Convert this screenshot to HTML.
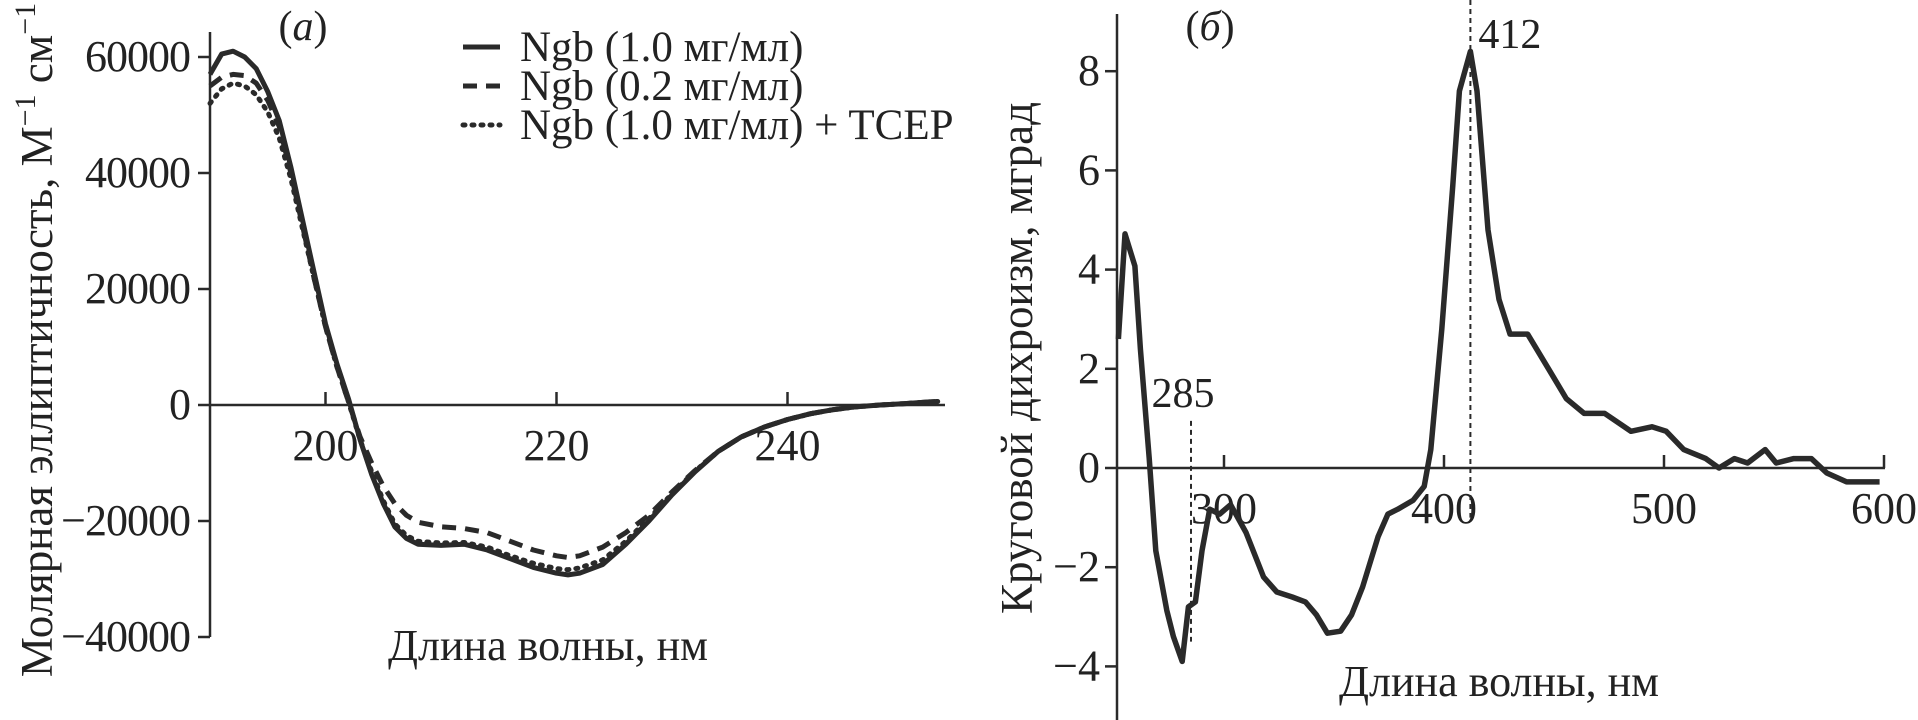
<!DOCTYPE html>
<html><head><meta charset="utf-8"><style>
html,body{margin:0;padding:0;background:#fff}
svg{display:block}
text{font-family:"Liberation Serif",serif;fill:#222}
</style></head><body>
<svg id="chart" width="1918" height="720" viewBox="0 0 1918 720">
<g id="pa"></g>
<g id="pb"></g>
</svg>
<script>
// Panel a data
const aWl = [190,191,192,193,194,195,196,197,198,199,200,201,202,203,204,205,206,207,208,210,212,214,216,218,220,221,222,224,226,228,230,232,234,236,238,240,242,244,246,248,250,252,253];
const aSolid = [57000,60500,61000,60000,58000,54000,49000,41000,32000,23000,14000,7000,1000,-6000,-12000,-17000,-21000,-23000,-24000,-24200,-24000,-25000,-26500,-28000,-29000,-29300,-29000,-27500,-24000,-20000,-15500,-11500,-8000,-5500,-3800,-2500,-1500,-800,-300,0,200,500,600];
const aDashed = [55000,56500,57000,56800,55500,52500,48000,40000,31000,22000,13500,6500,500,-5500,-10000,-14000,-17000,-19000,-20200,-21000,-21300,-22000,-23500,-25000,-26000,-26300,-26000,-24500,-22000,-19000,-15000,-11300,-8000,-5500,-3800,-2500,-1500,-800,-300,0,200,500,600];
const aDotted = [52000,54500,55500,55000,53500,50500,46000,39000,30500,22000,13500,6500,500,-6000,-11500,-16500,-20500,-22500,-23500,-23800,-23700,-24500,-26000,-27300,-28200,-28400,-28100,-26700,-23500,-19600,-15300,-11400,-8000,-5500,-3800,-2500,-1500,-800,-300,0,200,500,600];
const aYTicks = [60000,40000,20000,0,-20000,-40000];
const aYLabels = ["60000","40000","20000","0","\u221220000","\u221240000"];
const aXTicks = [200,220,240];
// Panel b data
const bWl = [252,255,259.5,262,266,269,274,277,281,283.8,287,290,293.5,298,303,310,318,324,331,337,342,347,353,358,363,370,374.5,379,386,391,394,399,404,407,412,415,420,425,430,438,447.5,455.6,463.7,473,485,494.5,501,509,519,525,532,538,546,551,559,567,574,583,593,598];
const bVal = [2.6,4.72,4.07,2.4,0.2,-1.67,-2.87,-3.4,-3.9,-2.8,-2.7,-1.67,-0.83,-0.93,-0.74,-1.3,-2.2,-2.5,-2.6,-2.7,-2.96,-3.33,-3.29,-2.96,-2.4,-1.39,-0.93,-0.83,-0.65,-0.37,0.37,2.8,5.7,7.6,8.4,7.6,4.8,3.4,2.7,2.7,2.0,1.4,1.1,1.1,0.74,0.83,0.74,0.37,0.19,0,0.19,0.1,0.37,0.1,0.19,0.19,-0.1,-0.28,-0.28,-0.28];
const bYTicks = [8,6,4,2,0,-2,-4];
const bYLabels = ["8","6","4","2","0","\u22122","\u22124"];
const bXTicks = [300,400,500,600];
const bMarks = [285,412];

const NS="http://www.w3.org/2000/svg";
function mk(parent,tag,attrs,txt){const e=document.createElementNS(NS,tag);for(const k in attrs)e.setAttribute(k,attrs[k]);if(txt!==undefined)e.textContent=txt;parent.appendChild(e);return e;}
const C="#2a2a2a";

// ---- Panel A ----
const pa=document.getElementById('pa');
const ax=v=>210+(v-190)*11.55;
const ay=v=>405-v/20000*116;
let e;
e=mk(pa,'line',{x1:210,y1:32,x2:210,y2:ay(-40000),stroke:C,'stroke-width':2.5});


e=mk(pa,'line',{x1:210,y1:ay(0),x2:945,y2:ay(0),stroke:C,'stroke-width':2.5});


aYTicks.forEach((t,i)=>{
  e=mk(pa,'line',{x1:198,y1:ay(t),x2:210,y2:ay(t),stroke:C,'stroke-width':2.5});
  
  
  e=mk(pa,'text',{x:190,y:ay(t)+14,'text-anchor':'end','font-size':44,'letter-spacing':'-1'},aYLabels[i]);
  
  
});
aXTicks.forEach(t=>{
  e=mk(pa,'line',{x1:ax(t),y1:ay(0)-13,x2:ax(t),y2:ay(0),stroke:C,'stroke-width':2.5});
  
  
  e=mk(pa,'text',{x:ax(t),y:ay(0)+55,'text-anchor':'middle','font-size':44},String(t));
  
  
});
function pathOf(xs,ys,fx,fy){return xs.map((x,i)=>(i?'L':'M')+fx(x).toFixed(1)+','+fy(ys[i]).toFixed(1)).join('');}
e=mk(pa,'path',{d:pathOf(aWl,aDotted,ax,ay),fill:'none',stroke:C,'stroke-width':5,'stroke-dasharray':'2 7','stroke-linecap':'round','stroke-linejoin':'round'});


e=mk(pa,'path',{d:pathOf(aWl,aDashed,ax,ay),fill:'none',stroke:C,'stroke-width':5,'stroke-dasharray':'14 9','stroke-linejoin':'round'});


e=mk(pa,'path',{d:pathOf(aWl,aSolid,ax,ay),fill:'none',stroke:C,'stroke-width':5,'stroke-linejoin':'round'});


e=mk(pa,'text',{x:303,y:40,'text-anchor':'middle','font-size':42},'');
e.innerHTML='(<tspan font-style="italic">а</tspan>)';


const legs=[["Ngb (1.0 мг/мл)",null],["Ngb (0.2 мг/мл)",'14 9'],["Ngb (1.0 мг/мл) + TCEP",'2 7']];
legs.forEach((l,i)=>{
  const y=47+i*39;
  const at={x1:463,y1:y,x2:500,y2:y,stroke:C,'stroke-width':5};
  if(l[1]){at['stroke-dasharray']=l[1];}
  if(i==2)at['stroke-linecap']='round';
  e=mk(pa,'line',at);
  
  
  e=mk(pa,'text',{x:520,y:y+14,'font-size':43},l[0]);
  
  
});
e=mk(pa,'text',{x:548,y:660,'text-anchor':'middle','font-size':44},'Длина волны, нм');


e=mk(pa,'text',{x:0,y:0,'text-anchor':'middle','font-size':45,transform:'translate(52,340) rotate(-90)'},'');
e.innerHTML='Молярная эллиптичность, М<tspan dy="-17" font-size="30">−1</tspan><tspan dy="17"> см</tspan><tspan dy="-17" font-size="30">−1</tspan>';



// ---- Panel B ----
const pb=document.getElementById('pb');
const bx=v=>1224+(v-300)*2.2;
const by=v=>468-v*49.6;
e=mk(pb,'line',{x1:1117,y1:14,x2:1117,y2:720,stroke:C,'stroke-width':2.5});


e=mk(pb,'line',{x1:1117,y1:by(0),x2:1885,y2:by(0),stroke:C,'stroke-width':2.5});


bYTicks.forEach((t,i)=>{
  e=mk(pb,'line',{x1:1105,y1:by(t),x2:1117,y2:by(t),stroke:C,'stroke-width':2.5});
  
  
  e=mk(pb,'text',{x:1100,y:by(t)+14,'text-anchor':'end','font-size':44},bYLabels[i]);
  
  
});
bXTicks.forEach(t=>{
  e=mk(pb,'line',{x1:bx(t),y1:by(0)-13,x2:bx(t),y2:by(0),stroke:C,'stroke-width':2.5});
  
  
  e=mk(pb,'text',{x:bx(t),y:by(0)+55,'text-anchor':'middle','font-size':44},String(t));
  
  
});
e=mk(pb,'line',{x1:bx(bMarks[0]),y1:by(0.95),x2:bx(bMarks[0]),y2:by(-3.5),stroke:C,'stroke-width':2,'stroke-dasharray':'5 4'});


e=mk(pb,'line',{x1:bx(bMarks[1]),y1:0,x2:bx(bMarks[1]),y2:by(-1),stroke:C,'stroke-width':2,'stroke-dasharray':'5 4'});


e=mk(pb,'path',{d:pathOf(bWl,bVal,bx,by),fill:'none',stroke:C,'stroke-width':5.5,'stroke-linejoin':'round'});


e=mk(pb,'text',{x:bx(bMarks[0])-8,y:407,'text-anchor':'middle','font-size':42},String(bMarks[0]));


e=mk(pb,'text',{x:bx(bMarks[1])+8,y:48,'font-size':42},String(bMarks[1]));


e=mk(pb,'text',{x:1210,y:40,'text-anchor':'middle','font-size':42},'');
e.innerHTML='(<tspan font-style="italic">б</tspan>)';


e=mk(pb,'text',{x:1499,y:696,'text-anchor':'middle','font-size':44},'Длина волны, нм');


e=mk(pb,'text',{x:0,y:0,'text-anchor':'middle','font-size':45,transform:'translate(1032,358) rotate(-90)'},'Круговой дихроизм, мград');


</script>
</body></html>
